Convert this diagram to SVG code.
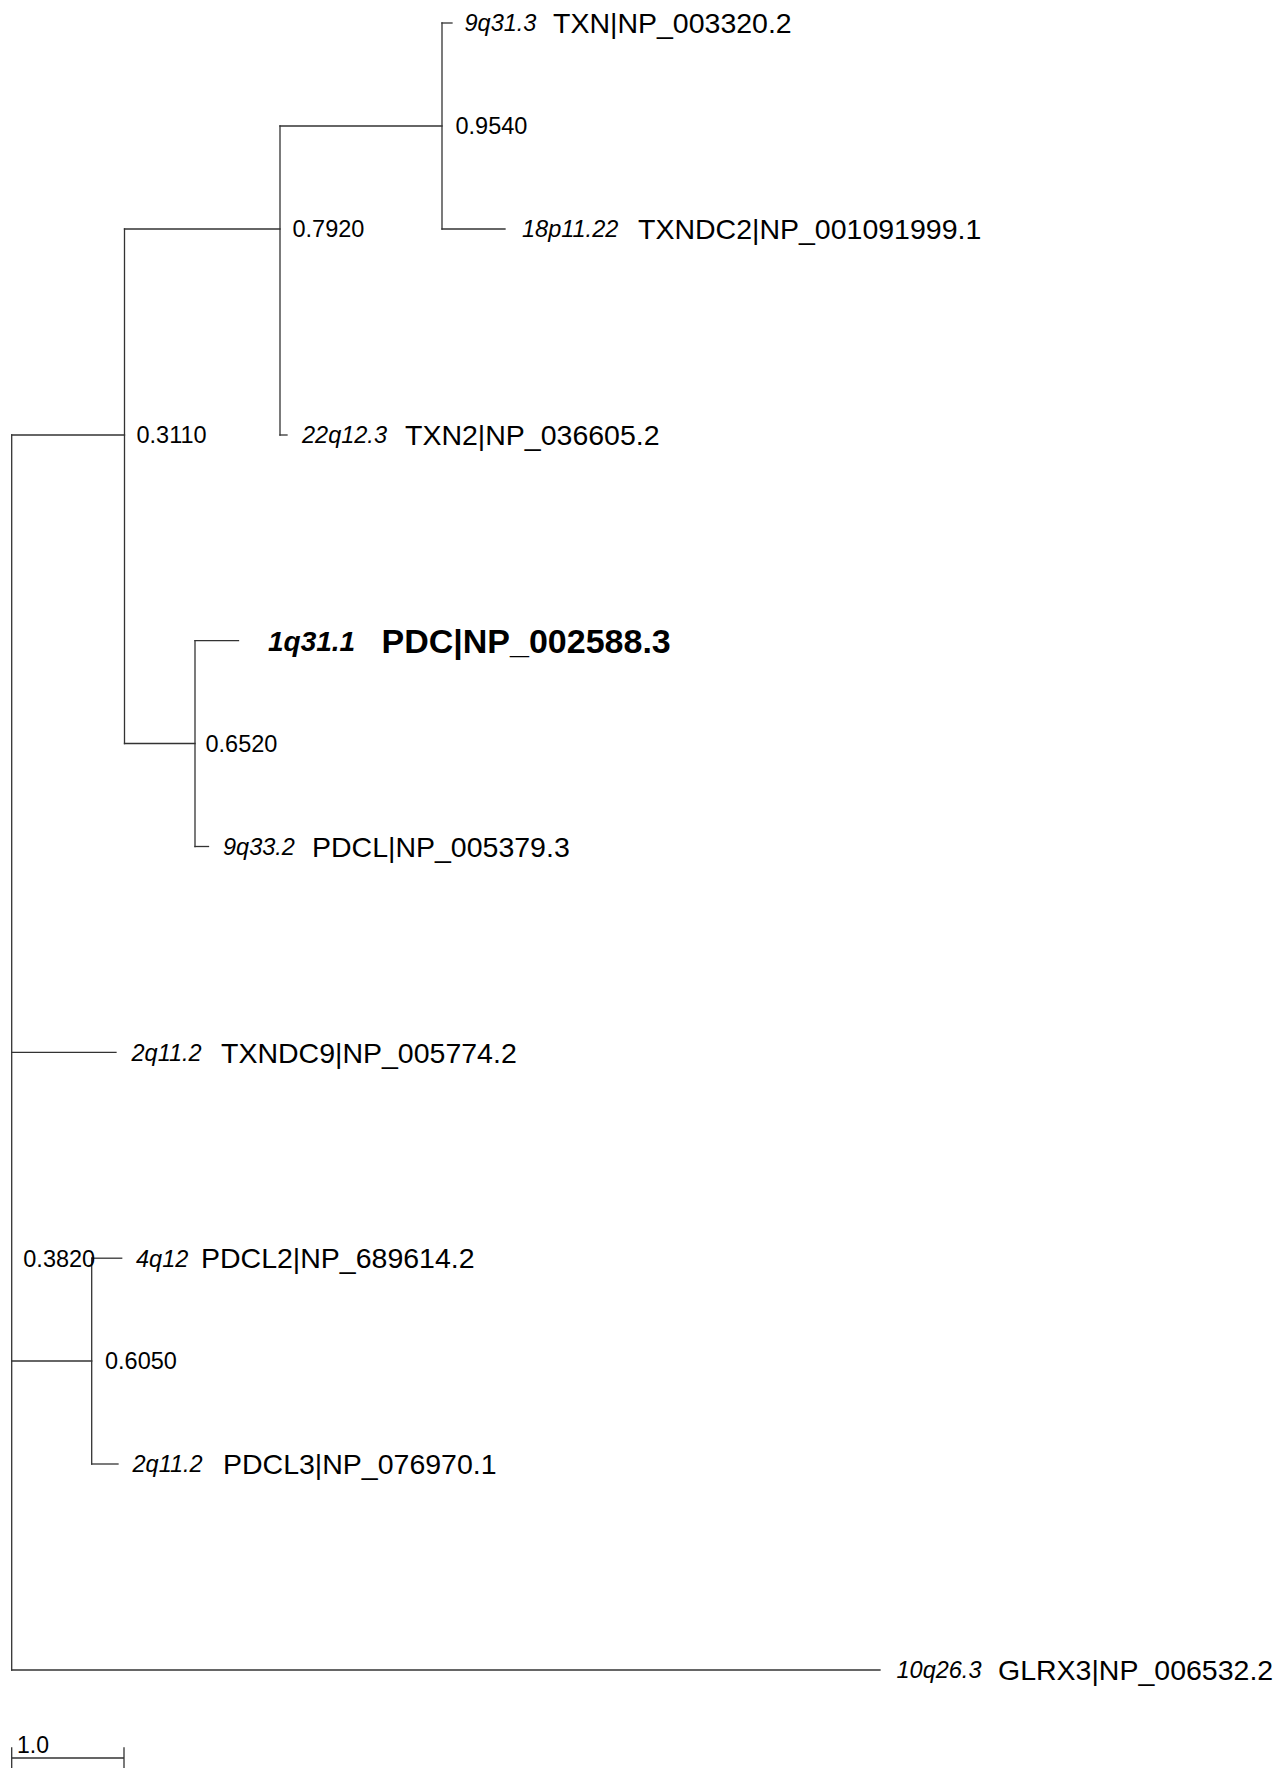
<svg xmlns="http://www.w3.org/2000/svg" width="1288" height="1768" viewBox="0 0 1288 1768">
<style>
  text { font-family: "Liberation Sans", Arial, Helvetica, sans-serif; fill: #000; }
  .loc { font-size: 23.5px; font-style: italic; }
  .name { font-size: 28.5px; }
  .locb { font-size: 28px; font-style: italic; font-weight: bold; }
  .nameb { font-size: 34px; font-weight: bold; }
  .sup { font-size: 23.5px; }
  .br { fill: none; stroke: #333; stroke-width: 1.3; stroke-linecap: square; }
</style>
<rect x="0" y="0" width="1288" height="1768" fill="#fff"/>
<g id="connectors">
  <!-- root -->
  <path class="br" d="M11.7 435 V1670"/>
  <path class="br" d="M11.7 435 H124.5"/>
  <path class="br" d="M11.7 1052.4 H116"/>
  <path class="br" d="M11.7 1361 H91.7"/>
  <path class="br" d="M11.7 1670 H880"/>
  <!-- 0.3110 -->
  <path class="br" d="M124.5 229 V743.5"/>
  <path class="br" d="M124.5 229 H280"/>
  <path class="br" d="M124.5 743.5 H195"/>
  <!-- 0.7920 -->
  <path class="br" d="M280 126 V435"/>
  <path class="br" d="M280 126 H442"/>
  <path class="br" d="M280 435 H287"/>
  <!-- 0.9540 -->
  <path class="br" d="M442 23 V229"/>
  <path class="br" d="M442 23 H452"/>
  <path class="br" d="M442 229 H505"/>
  <!-- 0.6520 -->
  <path class="br" d="M195 640.6 V846.5"/>
  <path class="br" d="M195 640.6 H238.5"/>
  <path class="br" d="M195 846.5 H208.5"/>
  <!-- 0.6050 -->
  <path class="br" d="M91.7 1258.2 V1464"/>
  <path class="br" d="M91.7 1258.2 H121.7"/>
  <path class="br" d="M91.7 1464 H118"/>
</g>
<g id="leaf-TXN">
  <text class="loc" x="464.5" y="31.4">9q31.3</text>
  <text class="name" x="553" y="33.2">TXN|NP_003320.2</text>
</g>
<g id="leaf-TXNDC2">
  <text class="loc" x="522" y="237.4">18p11.22</text>
  <text class="name" x="638" y="239.2">TXNDC2|NP_001091999.1</text>
</g>
<g id="leaf-TXN2">
  <text class="loc" x="302" y="443.4">22q12.3</text>
  <text class="name" x="405" y="445.2">TXN2|NP_036605.2</text>
</g>
<g id="leaf-PDC">
  <text class="locb" x="268" y="650.6">1q31.1</text>
  <text class="nameb" x="381.5" y="652.8">PDC|NP_002588.3</text>
</g>
<g id="leaf-PDCL">
  <text class="loc" x="223" y="854.9">9q33.2</text>
  <text class="name" x="312" y="856.7">PDCL|NP_005379.3</text>
</g>
<g id="leaf-TXNDC9">
  <text class="loc" x="131.5" y="1060.8">2q11.2</text>
  <text class="name" x="221" y="1062.6">TXNDC9|NP_005774.2</text>
</g>
<g id="leaf-PDCL2">
  <text class="loc" x="136" y="1266.6">4q12</text>
  <text class="name" x="201" y="1268.4">PDCL2|NP_689614.2</text>
</g>
<g id="leaf-PDCL3">
  <text class="loc" x="132.5" y="1472.4">2q11.2</text>
  <text class="name" x="223" y="1474.2">PDCL3|NP_076970.1</text>
</g>
<g id="leaf-GLRX3">
  <text class="loc" x="896.5" y="1678.4">10q26.3</text>
  <text class="name" x="998" y="1680.2">GLRX3|NP_006532.2</text>
</g>
<g id="node-0.9540"><text class="sup" x="455.5" y="134.4">0.9540</text></g>
<g id="node-0.7920"><text class="sup" x="292.5" y="237.4">0.7920</text></g>
<g id="node-0.3110"><text class="sup" x="136.5" y="443.4">0.3110</text></g>
<g id="node-0.6520"><text class="sup" x="205.5" y="751.9">0.6520</text></g>
<g id="node-0.3820"><text class="sup" x="23.3" y="1266.5">0.3820</text></g>
<g id="node-0.6050"><text class="sup" x="105" y="1369.4">0.6050</text></g>
<g id="scale-bar">
  <path class="br" d="M11.7 1758 H124 M11.7 1748 V1768 M124 1748 V1768"/>
  <text class="sup" x="17" y="1753" style="font-size:23px">1.0</text>
</g>
</svg>
